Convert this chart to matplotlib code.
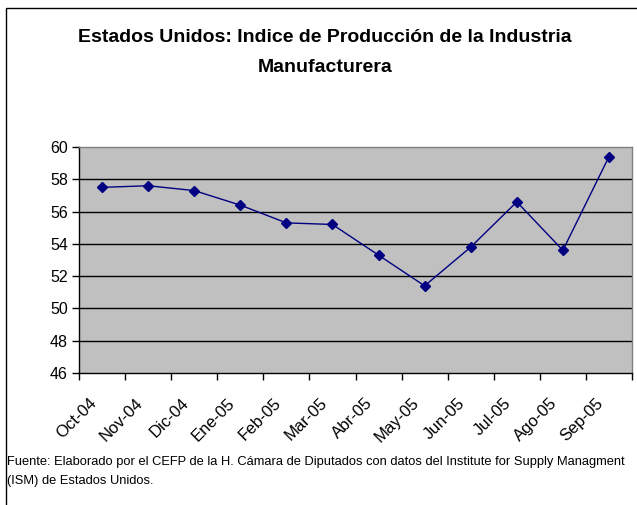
#!/usr/bin/env python3
# -*- coding: utf-8 -*-
'''
Estados Unidos: Indice de Producción de la Industria Manufacturera
'''
import numpy as np
import matplotlib
matplotlib.use("Agg")
import matplotlib.pyplot as plt
import matplotlib.transforms as mtransforms
from matplotlib.patches import Rectangle

plt.rcParams['font.family'] = ['Liberation Sans', 'DejaVu Sans']

# datos
meses = ["Oct-04", "Nov-04", "Dic-04", "Ene-05", "Feb-05", "Mar-05",
         "Abr-05", "May-05", "Jun-05", "Jul-05", "Ago-05", "Sep-05"]
indice = [57.5, 57.6, 57.3, 56.4, 55.3, 55.2, 53.3, 51.4, 53.8, 56.6, 53.6, 59.4]
y_ticks = [46, 48, 50, 52, 54, 56, 58, 60]

W, H = 637, 505
fig = plt.figure(figsize=(W / 100, H / 100), dpi=100)

# marco exterior (sin borde derecho ni inferior visibles)
fig.patches.append(Rectangle((6 / W, -0.1), 1.2, 1 - 8 / H + 0.1,
                             transform=fig.transFigure, fill=False,
                             edgecolor="black", linewidth=1.0))

# area de trazado
left, right, top, bottom = 79, 632, 147, 373
ax = fig.add_axes([left / W, 1 - bottom / H, (right - left) / W, (bottom - top) / H])
ax.set_facecolor("#C0C0C0")

x = np.arange(len(meses))
ax.plot(x, indice, color="#000080", linewidth=1.0, marker="D",
        markersize=5.5, markerfacecolor="#000080", markeredgecolor="#000080",
        zorder=3)

ax.set_xlim(-0.5, len(meses) - 0.5)
ax.set_ylim(46, 60)
ax.set_yticks(y_ticks)
ax.set_yticklabels([str(v) for v in y_ticks], fontsize=11.5)
for v in y_ticks[1:-1]:
    ax.axhline(v, color="black", linewidth=1.0, zorder=1)

# ticks del eje x en los limites de categoria
ax.set_xticks(np.arange(-0.5, len(meses), 1.0))
ax.set_xticklabels([])
ax.set_xticks(x, minor=True)
ax.set_xticklabels(meses, minor=True, rotation=45, ha="right", va="center",
                   rotation_mode="anchor", fontsize=12)
ax.tick_params(axis="x", which="minor", length=0, pad=20)
ax.tick_params(axis="x", which="major", length=5, width=1, direction="out")
ax.tick_params(axis="y", length=5, width=1, direction="out", pad=3)
desplaza = mtransforms.ScaledTranslation(-8 / 100, 0, fig.dpi_scale_trans)
for lbl in ax.get_xticklabels(minor=True):
    lbl.set_transform(lbl.get_transform() + desplaza)

for s in ["top", "right"]:
    ax.spines[s].set_color("#808080")
for s in ["left", "bottom"]:
    ax.spines[s].set_color("black")
for s in ax.spines.values():
    s.set_linewidth(1.0)

# titulo
fig.text(325 / W, 1 - 38 / H, "Estados Unidos: Indice de Producción de la Industria",
         ha="center", va="center", fontsize=14, fontweight="bold")
fig.text(325 / W, 1 - 67 / H, "Manufacturera",
         ha="center", va="center", fontsize=14, fontweight="bold")

# fuente
fuente = ("Fuente: Elaborado por el CEFP de la H. Cámara de Diputados con datos del "
          "Institute for Supply Managment")
fig.text(7 / W, 1 - 462 / H, fuente, ha="left", va="center", fontsize=9.3)
fig.text(7 / W, 1 - 481 / H, "(ISM) de Estados Unidos.", ha="left", va="center",
         fontsize=9.3)

fig.savefig("out.png", dpi=100)
